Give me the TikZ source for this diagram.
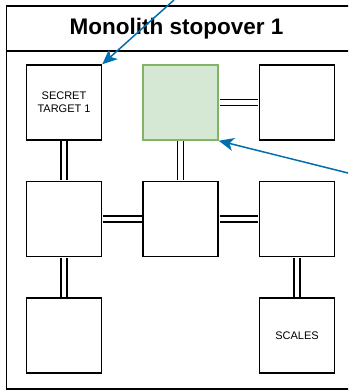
\documentclass[tikz,border=0pt]{standalone}
\usepackage{fontspec}
\setmainfont{Liberation Sans}
\definecolor{linkblue}{RGB}{0, 110, 175}
\definecolor{zonegreen}{RGB}{213, 232, 212}
\definecolor{zoneedge}{RGB}{130, 179, 102}
\usetikzlibrary{arrows.meta, positioning}

\begin{document}
\begin{tikzpicture}[x=1pt, y=-1pt, node distance=40pt,
  room/.style={draw, line width=1.5pt, fill=white, minimum size=75pt, inner sep=2pt, align=center, font=\fontsize{11}{13}\selectfont},
  passage/.style={draw, line width=1.7pt, double=white, double distance=4.5pt, shorten <=0.75pt, shorten >=0.75pt},
  pointer/.style={draw=linkblue, line width=1.5pt, -{Stealth[length=15pt, width=13pt, inset=4pt]}}]
  \useasboundingbox (0,0) rectangle (348,390);
  \clip (0,0) rectangle (348,390);
  % frame and title
  \draw[line width=1.5pt] (6.5,6) rectangle (352,389);
  \draw[line width=1.5pt] (6.5,51) -- (352,51);
  \node (title) at (176.5,29) {\fontsize{22.5}{27}\selectfont\bfseries Monolith stopover 1};
  % rooms
  \node[room] (r11) at (64,102.5) {SECRET\\TARGET 1};
  \node[room, fill=zonegreen, draw=zoneedge] (r12) [right=of r11] {};
  \node[room] (r13) [right=of r12] {};
  \node[room] (r21) [below=of r11] {};
  \node[room] (r22) [right=of r21] {};
  \node[room] (r23) [right=of r22] {};
  \node[room] (r31) [below=of r21] {};
  \node[room] (r33) [below=of r23] {SCALES};
  % passages
  \draw[passage] (r11) -- (r21);
  \draw[passage] (r12) -- (r22);
  \draw[passage] (r12) -- (r13);
  \draw[passage] (r21) -- (r22);
  \draw[passage] (r22) -- (r23);
  \draw[passage] (r21) -- (r31);
  \draw[passage] (r23) -- (r33);
  % pointers
  \coordinate (in1) at (174,0);
  \coordinate (in2) at (350,173.5);
  \draw[pointer] (in1) -- (r11.north east);
  \draw[pointer] (in2) -- (r12.south east);
\end{tikzpicture}
\end{document}
